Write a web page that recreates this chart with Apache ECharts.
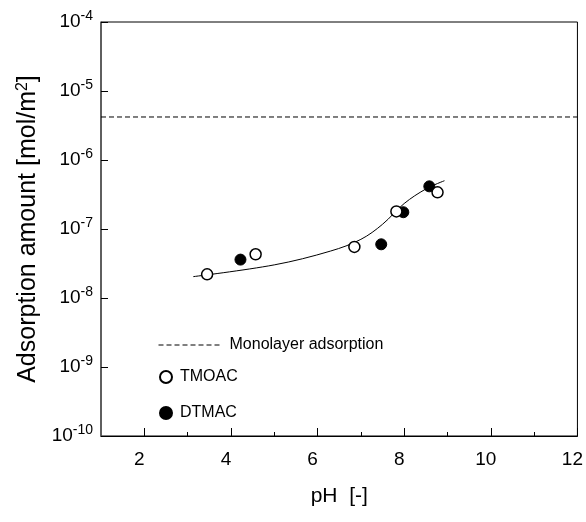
<!DOCTYPE html>
<html>
<head>
<meta charset="utf-8">
<script src="https://cdn.jsdelivr.net/npm/echarts@6/dist/echarts.min.js"></script>
<style>html,body{margin:0;padding:0;background:#fff}#c{width:586px;height:522px}</style>
</head>
<body>
<div id="c"></div>
<script>
// Data
var tmoacPH = [3.45, 4.57, 6.85, 7.82, 8.77];
var tmoacAmount = [2.2e-8, 4.3e-8, 5.5e-8, 1.8e-7, 3.4e-7];
var dtmacPH = [4.22, 7.47, 7.98, 8.58];
var dtmacAmount = [3.6e-8, 6.0e-8, 1.75e-7, 4.15e-7];
var fitPH = [3.13, 5.0, 6.3, 7.0, 7.5, 8.0, 8.5, 8.93];
var fitAmount = [2.04e-8, 3.02e-8, 4.79e-8, 7.08e-8, 1.17e-7, 2.34e-7, 3.8e-7, 5.01e-7];
var monolayerPH = [1, 12];
var monolayerAmount = [4.2e-6, 4.2e-6];
var xMajorTicks = [2, 4, 6, 8, 10, 12];
var xMinorTicks = [3, 5, 7, 9, 11];
var yExponents = [-10, -9, -8, -7, -6, -5, -4];

function zip(a, b) { return a.map(function (v, i) { return [v, b[i]]; }); }
var yTickValues = yExponents.map(function (e) { return Math.pow(10, e); });

var font = 'Liberation Sans, Arial, sans-serif';
var chart = echarts.init(document.getElementById('c'), null, {renderer: 'canvas'});
chart.setOption({
  animation: false,
  backgroundColor: '#fff',
  grid: {left: 101, right: 8, top: 22, bottom: 86, show: true, borderColor: '#000', borderWidth: 1},
  legend: [
    {
      data: ['Monolayer adsorption'], left: 153, top: 332, orient: 'vertical',
      itemWidth: 64, itemHeight: 10, itemGap: 0,
      itemStyle: {opacity: 0},
      lineStyle: {color: '#000', width: 1, type: [5, 3], opacity: 1},
      textStyle: {fontFamily: font, fontSize: 16, color: '#000', padding: [0, 0, 0, 2]}
    },
    {
      data: ['TMOAC', 'DTMAC'], left: 154, top: 364, orient: 'vertical',
      itemWidth: 12, itemHeight: 12, itemGap: 20,
      textStyle: {fontFamily: font, fontSize: 16, color: '#000', padding: [4, 0, 0, 3]}
    }
  ],
  xAxis: [
    {
      type: 'value', min: 1, max: 12, interval: 1,
      name: 'pH  [-]', nameLocation: 'middle', nameGap: 50,
      nameTextStyle: {fontFamily: font, fontSize: 21, color: '#000'},
      axisLine: {show: true, onZero: false, lineStyle: {color: '#000', width: 1}},
      axisTick: {show: true, inside: true, length: 8, customValues: xMajorTicks, lineStyle: {color: '#000'}},
      axisLabel: {show: true, customValues: xMajorTicks, margin: 14, fontFamily: font, fontSize: 19, color: '#000', padding: [0, 10, 0, 0]},
      splitLine: {show: false}
    },
    {
      type: 'value', min: 1, max: 12, interval: 1, position: 'bottom',
      axisLine: {show: false, onZero: false},
      axisTick: {show: true, inside: true, length: 4, customValues: xMinorTicks, lineStyle: {color: '#000'}},
      axisLabel: {show: false},
      splitLine: {show: false}
    }
  ],
  yAxis: {
    type: 'log', logBase: 10, min: 1e-10, max: 1e-4, interval: 1,
    name: 'Adsorption amount [mol/m{sup|2}]', nameLocation: 'middle', nameGap: 58,
    nameTextStyle: {fontFamily: font, fontSize: 25, color: '#000',
      rich: {sup: {fontFamily: font, fontSize: 16, color: '#000', padding: [0, 0, 12, 0]}}},
    axisLine: {show: true, lineStyle: {color: '#555', width: 1.5}},
    axisTick: {show: true, inside: true, length: 7, lineStyle: {color: '#000'}},
    axisLabel: {
      margin: 8, fontFamily: font, fontSize: 19, color: '#000',
      formatter: function (v) { return '10{sup|' + Math.round(Math.log10(v)) + '}'; },
      rich: {sup: {fontFamily: font, fontSize: 14, color: '#000', padding: [0, 0, 12, 0]}}
    },
    splitLine: {show: false}
  },
  series: [
    {
      name: 'fit', type: 'line', smooth: 0.35, data: zip(fitPH, fitAmount), symbol: 'none',
      lineStyle: {color: '#000', width: 1}, z: 2
    },
    {
      name: 'Monolayer adsorption', type: 'line', data: zip(monolayerPH, monolayerAmount), symbol: 'none',
      lineStyle: {color: '#000', width: 1, type: [5, 3]}, itemStyle: {color: '#000'}
    },
    {
      name: 'TMOAC', type: 'scatter', data: zip(tmoacPH, tmoacAmount), symbol: 'circle', symbolSize: 11,
      itemStyle: {color: '#fff', borderColor: '#000', borderWidth: 1.5, opacity: 1}, z: 4
    },
    {
      name: 'DTMAC', type: 'scatter', data: zip(dtmacPH, dtmacAmount), symbol: 'circle', symbolSize: 11,
      itemStyle: {color: '#000', borderColor: '#000', borderWidth: 1, opacity: 1}, z: 3
    }
  ]
});
</script>
</body>
</html>
